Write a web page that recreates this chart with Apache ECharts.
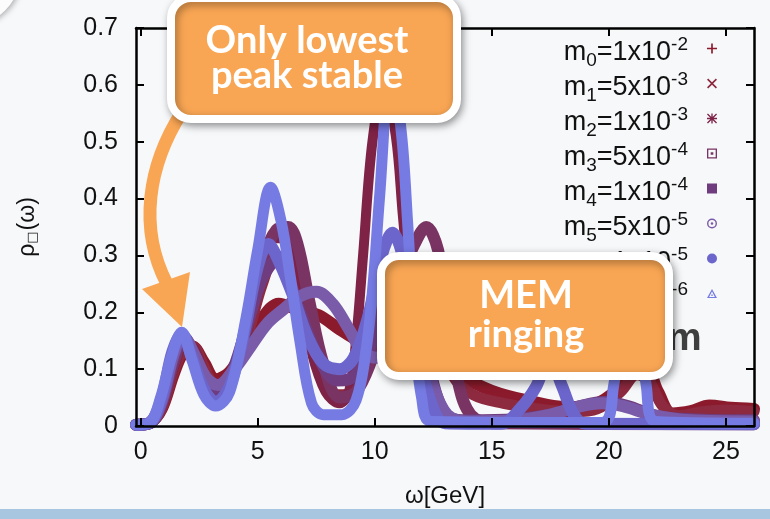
<!DOCTYPE html>
<html>
<head>
<meta charset="utf-8">
<script src="https://cdn.jsdelivr.net/npm/echarts@6/dist/echarts.min.js"></script>
<style>
  html, body { margin: 0; padding: 0; background: #f7f8fa; }
  #chart { width: 770px; height: 519px; }
</style>
</head>
<body>
<div id="chart"></div>
<script>
// Spectral function rho(omega) reconstructed with different default-model normalisations m_i
const seriesNames = ['m0', 'm1', 'm2', 'm3', 'm4', 'm5', 'm6', 'm7'];
const prefactors = ['1', '5', '1', '5', '1', '5', '1', '5'];
const exponents = ['-2', '-3', '-3', '-4', '-4', '-5', '-5', '-6'];
const omegaTicks = [0, 5, 10, 15, 20, 25];

// [omega in GeV, rho]
const m0Data = [[-0.2,0.002],[0.4,0.006],[0.9,0.03],[1.4,0.09],[1.8,0.128],[2.2,0.14],[2.7,0.112],[3.2,0.082],[3.8,0.095],[4.5,0.14],[5.2,0.19],[5.9,0.215],[6.7,0.205],[7.6,0.195],[8.5,0.17],[9.3,0.15],[10.0,0.14],[10.6,0.17],[11.3,0.23],[12.0,0.26],[12.7,0.2],[13.3,0.12],[13.9,0.085],[15.0,0.062],[16.5,0.045],[18.2,0.033],[19.5,0.04],[20.4,0.065],[21.1,0.095],[21.6,0.1],[22.1,0.06],[22.7,0.022],[23.5,0.026],[24.3,0.036],[25.2,0.032],[26.2,0.03]];
const m1Data = [[-0.2,0.002],[0.4,0.005],[0.9,0.03],[1.4,0.095],[1.85,0.135],[2.2,0.14],[2.7,0.105],[3.2,0.072],[3.8,0.085],[4.5,0.15],[5.2,0.25],[5.8,0.3],[6.3,0.28],[6.9,0.2],[7.6,0.11],[8.4,0.055],[9.1,0.06],[9.8,0.14],[10.5,0.24],[11.2,0.28],[11.9,0.24],[12.6,0.16],[13.3,0.09],[14.2,0.055],[15.5,0.04],[17.0,0.03],[18.5,0.025],[19.5,0.03],[20.5,0.06],[21.2,0.09],[21.7,0.08],[22.3,0.035],[23.0,0.018],[24.0,0.025],[25.0,0.028],[26.2,0.025]];
const m2Data = [[-0.2,0.002],[0.4,0.005],[0.9,0.035],[1.4,0.1],[1.9,0.145],[2.3,0.135],[2.8,0.085],[3.2,0.065],[3.8,0.08],[4.5,0.16],[5.2,0.28],[5.8,0.33],[6.2,0.33],[6.7,0.25],[7.3,0.13],[7.9,0.06],[8.5,0.04],[8.9,0.06],[9.2,0.15],[9.5,0.3],[9.9,0.5],[10.4,0.6],[10.9,0.51],[11.2,0.37],[11.5,0.24],[11.9,0.12],[12.4,0.05],[13.0,0.015],[14.0,0.005],[26.2,0.003]];
const m3Data = [[-0.2,0.002],[0.4,0.005],[0.9,0.04],[1.4,0.11],[1.85,0.15],[2.3,0.125],[2.8,0.075],[3.2,0.06],[3.8,0.08],[4.5,0.17],[5.2,0.29],[5.8,0.345],[6.3,0.35],[6.7,0.32],[7.2,0.22],[7.8,0.11],[8.5,0.05],[9.2,0.06],[9.9,0.12],[10.6,0.2],[11.2,0.27],[11.7,0.32],[12.2,0.35],[12.7,0.31],[13.2,0.18],[13.6,0.07],[14.1,0.02],[15.0,0.005],[26.2,0.003]];
const m4Data = [[-0.2,0.002],[0.4,0.005],[0.9,0.04],[1.4,0.12],[1.85,0.155],[2.3,0.125],[2.8,0.075],[3.2,0.06],[3.8,0.085],[4.5,0.17],[5.2,0.26],[5.8,0.29],[6.3,0.26],[6.9,0.19],[7.6,0.12],[8.4,0.08],[9.2,0.09],[10.0,0.16],[10.8,0.26],[11.4,0.27],[12.0,0.18],[12.6,0.06],[13.2,0.015],[14.0,0.01],[16.0,0.012],[17.5,0.02],[18.8,0.035],[19.8,0.042],[20.8,0.035],[22.0,0.018],[23.5,0.012],[26.2,0.01]];
const m5Data = [[-0.2,0.002],[0.4,0.006],[0.9,0.045],[1.4,0.125],[1.8,0.158],[2.3,0.125],[2.8,0.085],[3.3,0.072],[4.0,0.1],[4.7,0.14],[5.4,0.18],[6.1,0.205],[6.8,0.228],[7.5,0.236],[8.2,0.215],[8.9,0.17],[9.5,0.13],[10.1,0.12],[10.7,0.16],[11.3,0.2],[11.9,0.17],[12.5,0.07],[13.1,0.02],[14.0,0.008],[16.0,0.01],[17.5,0.02],[18.8,0.035],[19.7,0.04],[20.6,0.035],[21.8,0.02],[23.5,0.01],[26.2,0.008]];
const m6Data = [[-0.2,0.002],[0.4,0.006],[0.9,0.05],[1.35,0.13],[1.75,0.162],[2.2,0.12],[2.7,0.065],[3.2,0.042],[3.8,0.07],[4.4,0.16],[5.0,0.28],[5.45,0.32],[5.9,0.29],[6.5,0.23],[7.1,0.16],[7.8,0.11],[8.5,0.1],[9.1,0.12],[9.7,0.19],[10.3,0.3],[10.75,0.34],[11.3,0.28],[11.9,0.12],[12.5,0.03],[13.0,0.005],[15.4,0.004],[16.2,0.03],[16.9,0.07],[17.45,0.12],[18.0,0.07],[18.5,0.02],[19.0,0.004],[26.2,0.003]];
const m7Data = [[-0.2,0.002],[0.4,0.006],[0.85,0.05],[1.3,0.12],[1.75,0.165],[2.2,0.115],[2.7,0.055],[3.2,0.035],[3.8,0.06],[4.5,0.19],[5.0,0.31],[5.55,0.42],[6.0,0.36],[6.4,0.26],[6.8,0.15],[7.3,0.04],[7.8,0.02],[8.6,0.02],[9.2,0.045],[9.65,0.14],[9.95,0.26],[10.2,0.4],[10.7,0.64],[11.15,0.51],[11.4,0.36],[11.7,0.16],[12.0,0.05],[12.4,0.008],[19.7,0.006],[20.2,0.07],[20.6,0.2],[20.95,0.25],[21.3,0.19],[21.6,0.07],[22.0,0.008],[26.2,0.005]];
const spectra = [m0Data, m1Data, m2Data, m3Data, m4Data, m5Data, m6Data, m7Data];

// styling
const colors = ['#8b1b2c', '#8d2a40', '#7e2246', '#7a3464', '#6f3d7f', '#7a5ba9', '#6c66cc', '#767be3'];
const widths = [12, 11, 10, 12, 12, 12, 12, 11];
const icons = [
  'path://M5,0H7V5H12V7H7V12H5V7H0V5H5Z',
  'path://M1.4,0L6,4.6L10.6,0L12,1.4L7.4,6L12,10.6L10.6,12L6,7.4L1.4,12L0,10.6L4.6,6L0,1.4Z',
  'path://M5.2,0H6.8V12H5.2Z M0,5.2H12V6.8H0Z M1.1,0L12,10.9L10.9,12L0,1.1Z M10.9,0L12,1.1L1.1,12L0,10.9Z',
  'path://M0,0H12V12H0Z M1.6,1.6V10.4H10.4V1.6Z M4.4,4.4H7.6V7.6H4.4Z',
  'path://M0,0H12V12H0Z',
  'path://M6,0A6,6,0,1,1,6,12A6,6,0,1,1,6,0Z M6,1.7A4.3,4.3,0,1,0,6,10.3A4.3,4.3,0,1,0,6,1.7Z M6,4.4A1.6,1.6,0,1,1,6,7.6A1.6,1.6,0,1,1,6,4.4Z',
  'path://M6,0A6,6,0,1,1,6,12A6,6,0,1,1,6,0Z',
  'path://M6,0L12,11H0Z M6,3.2L2.6,9.6H9.4Z M5.2,6.6H6.8V8.4H5.2Z'
];

const ORANGE = '#f9a654';
const chart = echarts.init(document.getElementById('chart'), null, { renderer: 'canvas' });

const tickStyle = { show: true, inside: true, length: 8, lineStyle: { color: '#000', width: 2 } };
const lineStyleAxis = { show: true, onZero: false, lineStyle: { color: '#000', width: 2.5 } };

chart.setOption({
  backgroundColor: '#f7f8fa',
  animation: false,
  grid: { left: 136, right: 16, top: 28, bottom: 93, containLabel: false },
  xAxis: [
    {
      type: 'value', position: 'bottom', min: -0.2, max: 26.2, z: 5,
      axisLine: lineStyleAxis,
      axisTick: Object.assign({ customValues: omegaTicks }, tickStyle),
      axisLabel: { customValues: omegaTicks, fontSize: 25, color: '#111', margin: 14, fontFamily: 'Liberation Sans' },
      splitLine: { show: false },
      name: 'ω[GeV]', nameLocation: 'middle', nameGap: 58,
      nameTextStyle: { fontSize: 24, color: '#111', fontFamily: 'Liberation Sans' }
    },
    {
      type: 'value', position: 'top', min: -0.2, max: 26.2, z: 5,
      axisLine: lineStyleAxis,
      axisTick: Object.assign({ customValues: omegaTicks }, tickStyle),
      axisLabel: { show: false },
      splitLine: { show: false }
    }
  ],
  yAxis: [
    {
      type: 'value', position: 'left', min: 0, max: 0.7, interval: 0.1, z: 5,
      axisLine: lineStyleAxis,
      axisTick: tickStyle,
      axisLabel: {
        fontSize: 25, color: '#111', margin: 18, fontFamily: 'Liberation Sans',
        formatter: v => (v === 0 ? '0' : v.toFixed(1))
      },
      splitLine: { show: false },
      name: 'ρ{s|□}(ω)', nameLocation: 'middle', nameRotate: 90, nameGap: 97,
      nameTextStyle: {
        fontSize: 23, color: '#111', fontFamily: 'Liberation Sans',
        rich: { s: { fontSize: 13, padding: [10, 1, 0, 0], fontFamily: 'DejaVu Sans', color: '#111' } }
      }
    },
    {
      type: 'value', position: 'right', min: 0, max: 0.7, interval: 0.1, z: 5,
      axisLine: lineStyleAxis,
      axisTick: tickStyle,
      axisLabel: { show: false },
      splitLine: { show: false }
    }
  ],
  legend: {
    orient: 'vertical', right: 53, top: 35, padding: 0, itemGap: 0,
    itemWidth: 10, itemHeight: 10, align: 'right', selectedMode: false,
    data: seriesNames.map((n, i) => ({ name: n, icon: icons[i], itemStyle: { color: colors[i], borderWidth: 0 } })),
    formatter: name => {
      const i = seriesNames.indexOf(name);
      return '{m|m}{sub|' + i + '}{m|=' + prefactors[i] + 'x10}{sup|' + exponents[i] + '}';
    },
    textStyle: {
      color: '#111', fontFamily: 'Liberation Sans',
      rich: {
        m: { fontSize: 27, lineHeight: 27, padding: [4, 0, 0, 0], verticalAlign: 'top', color: '#111', fontFamily: 'Liberation Sans' },
        sub: { fontSize: 19, lineHeight: 19, padding: [16, 0, 0, 0], verticalAlign: 'top', color: '#111', fontFamily: 'Liberation Sans' },
        sup: { fontSize: 19, lineHeight: 19, padding: [0, 14, 0, 0], verticalAlign: 'top', color: '#111', fontFamily: 'Liberation Sans' }
      }
    }
  },
  series: seriesNames.map((n, i) => ({
    name: n, type: 'line', data: spectra[i], xAxisIndex: 0, yAxisIndex: 0,
    smooth: 0.35, symbol: 'none', clip: false, silent: true, z: 2,
    itemStyle: { color: colors[i] },
    lineStyle: { color: colors[i], width: widths[i], cap: 'round', join: 'round' }
  })),
  graphic: [
    { type: 'rect', z: 100, shape: { x: 0, y: 509, width: 770, height: 10 }, style: { fill: '#a9c6e1' } },
    { type: 'circle', z: 100, shape: { cx: -30, cy: -25, r: 50 },
      style: { fill: '#fcfcfd', shadowBlur: 6, shadowColor: 'rgba(0,0,0,0.35)', shadowOffsetX: 1, shadowOffsetY: 1 } },
    // curved arrow towards the lowest peak
    { type: 'bezierCurve', z: 101,
      shape: { x1: 182, y1: 112, cpx1: 148, cpy1: 165, cpx2: 138, cpy2: 228, x2: 167, y2: 284 },
      style: { stroke: ORANGE, lineWidth: 13, fill: null } },
    { type: 'polygon', z: 101, shape: { points: [[142, 289], [190, 272], [182, 327]] }, style: { fill: ORANGE } },
    // callout boxes
    { type: 'rect', z: 102, shape: { x: 171, y: -2, width: 286, height: 121, r: 20 },
      style: { fill: ORANGE, stroke: '#fff', lineWidth: 8, shadowBlur: 8, shadowColor: 'rgba(0,0,0,0.35)', shadowOffsetX: 2, shadowOffsetY: 3 } },
    { type: 'text', z: 103, style: { text: 'Only lowest', x: 307, y: 41, align: 'center', verticalAlign: 'middle', font: 'bold 38px Lato', fill: '#fff' } },
    { type: 'text', z: 103, style: { text: 'peak stable', x: 307, y: 76, align: 'center', verticalAlign: 'middle', font: 'bold 38px Lato', fill: '#fff' } },
    { type: 'rect', z: 102, shape: { x: 381, y: 256, width: 288, height: 120, r: 18 },
      style: { fill: ORANGE, stroke: '#fff', lineWidth: 8, shadowBlur: 8, shadowColor: 'rgba(0,0,0,0.35)', shadowOffsetX: 2, shadowOffsetY: 3 } },
    { type: 'text', z: 103, style: { text: 'MEM', x: 526, y: 296, align: 'center', verticalAlign: 'middle', font: 'bold 38px Lato', fill: '#fff' } },
    { type: 'text', z: 103, style: { text: 'ringing', x: 526, y: 335, align: 'center', verticalAlign: 'middle', font: 'bold 38px Lato', fill: '#fff' } },
    { type: 'text', z: 100, style: { text: 'm', x: 667, y: 359, align: 'left', verticalAlign: 'bottom', font: 'bold 39px Liberation Sans', fill: '#3f3f3f' } }
  ]
});
</script>
</body>
</html>
